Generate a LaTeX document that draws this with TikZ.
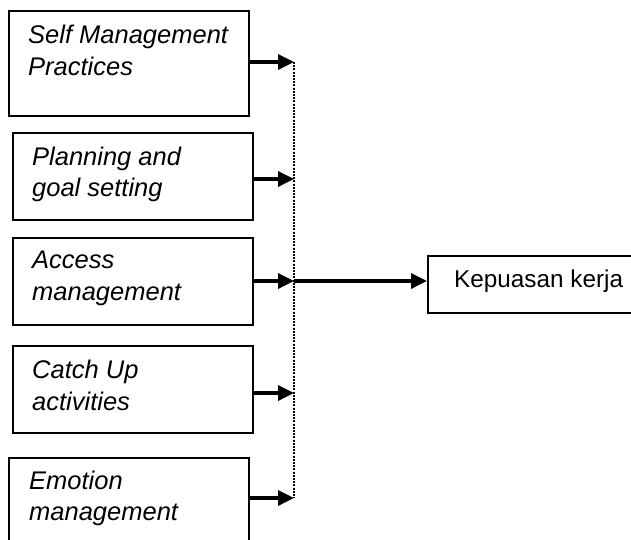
\documentclass[tikz,border=0pt]{standalone}
\usepackage{fontspec}
\setmainfont{Liberation Sans}
\usetikzlibrary{arrows.meta}
\begin{document}
\begin{tikzpicture}[x=1pt,y=-1pt,
  box/.style={draw, line width=2pt, rectangle, anchor=north west, inner sep=0pt},
  lbl/.style={anchor=base west, inner sep=0pt, font=\fontsize{25.5}{31}\selectfont\itshape},
  conn/.style={line width=3.4pt, -{Triangle[length=16pt,width=15pt]}},
  vline/.style={line width=2.4pt, dash pattern=on 2pt off 1.2pt}]
\useasboundingbox (0,0) rectangle (631,539);
% boxes
\node[box, minimum width=240pt, minimum height=105pt] (b1) at (8,10) {};
\node[box, minimum width=240pt, minimum height=87pt] (b2) at (12,132) {};
\node[box, minimum width=240pt, minimum height=87pt] (b3) at (12,237) {};
\node[box, minimum width=240pt, minimum height=87pt] (b4) at (12,345) {};
\node[box, minimum width=240pt, minimum height=105pt] (b5) at (8,457) {};
\node[box, minimum width=240pt, minimum height=57pt] (k) at (427,255) {};
% labels
\node[lbl] (t1a) at (28,43) {Self Management};
\node[lbl] (t1b) at (28,75) {Practices};
\node[lbl] (t2a) at (32,165) {Planning and};
\node[lbl] (t2b) at (32,196) {goal setting};
\node[lbl] (t3a) at (32,268) {Access};
\node[lbl] (t3b) at (32,300) {management};
\node[lbl] (t4a) at (32,378) {Catch Up};
\node[lbl] (t4b) at (32,410) {activities};
\node[lbl] (t5a) at (29,489) {Emotion};
\node[lbl] (t5b) at (29,520) {management};
\node[anchor=base west, inner sep=0pt, font=\fontsize{24.3}{30}\selectfont] (kt) at (454,287) {Kepuasan kerja};
% collector line
\coordinate (d1) at (294,62);
\coordinate (d2) at (294,179);
\coordinate (d3) at (294,281);
\coordinate (d4) at (294,393);
\coordinate (d5) at (294,498);
\draw[vline] (d1) -- (d5);
\draw[conn] (b1.east |- d1) -- (d1);
\draw[conn] (b2.east |- d2) -- (d2);
\draw[conn] (b3.east |- d3) -- (d3);
\draw[conn] (b4.east |- d4) -- (d4);
\draw[conn] (b5.east |- d5) -- (d5);
\draw[conn] (d3) -- (k.west |- d3);
\end{tikzpicture}
\end{document}
